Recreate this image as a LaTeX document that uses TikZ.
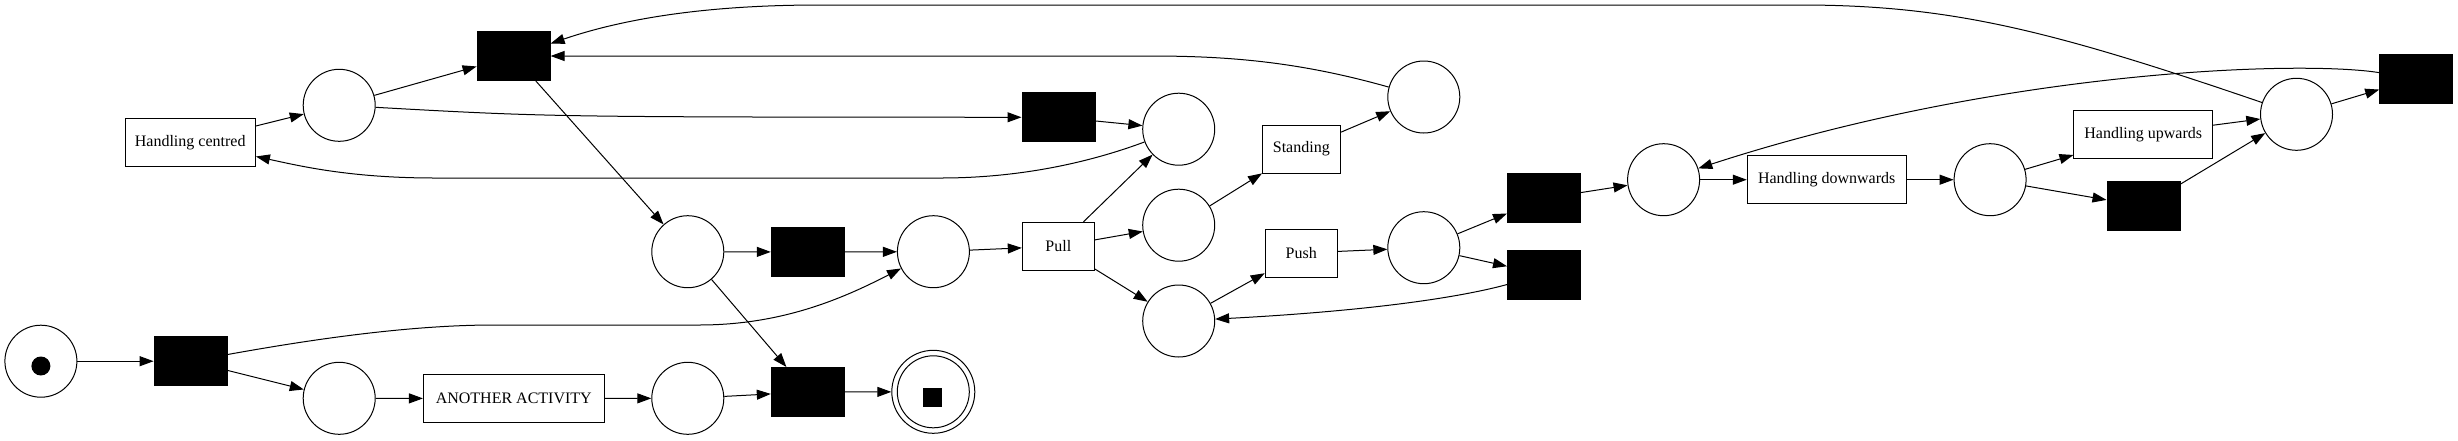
\documentclass[tikz,border=0pt]{standalone}
\usepackage{fontspec}
\setmainfont{Liberation Serif}
\usetikzlibrary{arrows.meta}
\begin{document}
\begin{tikzpicture}[x=1pt,y=-1pt,
  place/.style={draw,circle,line width=1pt,minimum size=72pt,inner sep=0pt},
  silent/.style={draw,fill=black,line width=1pt,minimum width=73pt,minimum height=49pt,inner sep=0pt},
  activity/.style={draw,fill=white,line width=1pt,minimum height=48pt,inner sep=0pt,font=\fontsize{16}{19}\selectfont},
  arc/.style={line width=1pt,-{Triangle[length=14pt,width=10pt]}}]
  \useasboundingbox (0,0) rectangle (2458,440);
  \node[place] (start) at (40.9,361.2) {};
  \node[circle,fill=black,minimum size=19pt,inner sep=0pt] (starttoken) at (40.9,366) {};
  \node[silent] (tA) at (190.6,361.2) {};
  \node[place] (pB) at (339.2,398.3) {};
  \node[activity,minimum width=180.7pt] (another) at (513.8,398.5) {ANOTHER ACTIVITY};
  \node[place] (pC) at (687.8,398.3) {};
  \node[silent] (tEnd) at (807.8,392) {};
  \node[place,minimum size=83pt] (sink) at (933.3,391.8) {};
  \draw[line width=1pt] (sink.center) circle[radius=36pt];
  \node[fill=black,minimum size=19pt,inner sep=0pt] (sinktoken) at (932.9,397.8) {};
  \node[activity,minimum width=130.4pt] (centred) at (190.2,142.3) {Handling centred};
  \node[place] (pD) at (339.2,105.3) {};
  \node[silent] (tTop) at (513.6,56) {};
  \node[place] (pE) at (687.8,251.7) {};
  \node[silent] (tMid) at (807.8,252) {};
  \node[place] (pF) at (933.4,251.7) {};
  \node[activity,minimum width=72pt] (pull) at (1058.3,246.3) {Pull};
  \node[silent] (tUp) at (1058.5,117.3) {};
  \node[place] (pG) at (1178.7,129.2) {};
  \node[place] (pH) at (1178.7,225.2) {};
  \node[place] (pI) at (1178.7,321) {};
  \node[activity,minimum width=77.5pt] (standing) at (1301.3,149) {Standing};
  \node[place] (pJ) at (1423.8,97) {};
  \node[activity,minimum width=72pt] (push) at (1301.2,253) {Push};
  \node[place] (pK) at (1423.8,247.7) {};
  \node[silent] (tK1) at (1544,198.3) {};
  \node[silent] (tK2) at (1544,274.5) {};
  \node[place] (pL) at (1663.6,179.7) {};
  \node[activity,minimum width=158.9pt] (downwards) at (1826.7,179.7) {Handling downwards};
  \node[place] (pM) at (1990.1,179.7) {};
  \node[activity,minimum width=138.5pt] (upwards) at (2143.2,134.3) {Handling upwards};
  \node[silent] (tM) at (2143.5,206.3) {};
  \node[place] (pN) at (2296.5,114.3) {};
  \node[silent] (tN) at (2416.2,78.5) {};
  \draw[arc]
    (start)
    --
    (tA);
  \draw[arc]
    (tA)
    --
    (pB);
  \draw[arc]
    (tA)
    .. controls (330,336) and (420,325) ..
    (494,325)
    --
    (699,325)
    .. controls (780,325) and (840,300) ..
    (pF);
  \draw[arc]
    (pB)
    --
    (another);
  \draw[arc]
    (another)
    --
    (pC);
  \draw[arc]
    (pC)
    --
    (tEnd);
  \draw[arc]
    (tEnd)
    --
    (sink);
  \draw[arc]
    (centred)
    --
    (pD);
  \draw[arc]
    (pD)
    --
    (tTop);
  \draw[arc]
    (pD)
    .. controls (550,117) ..
    (tUp);
  \draw[arc]
    (tUp)
    --
    (pG);
  \draw[arc]
    (pG)
    .. controls (1080,166) and (1010,178) ..
    (941,178)
    --
    (435,178)
    .. controls (350,178) and (300,166) ..
    (centred);
  \draw[arc]
    (tTop)
    --
    (pE);
  \draw[arc]
    (pE)
    --
    (tMid);
  \draw[arc]
    (pE)
    --
    (tEnd);
  \draw[arc]
    (tMid)
    --
    (pF);
  \draw[arc]
    (pF)
    --
    (pull);
  \draw[arc]
    (pull)
    --
    (pG);
  \draw[arc]
    (pull)
    --
    (pH);
  \draw[arc]
    (pull)
    --
    (pI);
  \draw[arc]
    (pH)
    --
    (standing);
  \draw[arc]
    (standing)
    --
    (pJ);
  \draw[arc]
    (pJ)
    .. controls (1300,62) and (1230,56) ..
    (1150,56)
    --
    (tTop);
  \draw[arc]
    (pI)
    --
    (push);
  \draw[arc]
    (push)
    --
    (pK);
  \draw[arc]
    (pK)
    --
    (tK1);
  \draw[arc]
    (pK)
    --
    (tK2);
  \draw[arc]
    (tK2)
    .. controls (1450,300) and (1350,312) ..
    (pI);
  \draw[arc]
    (tK1)
    --
    (pL);
  \draw[arc]
    (pL)
    --
    (downwards);
  \draw[arc]
    (downwards)
    --
    (pM);
  \draw[arc]
    (pM)
    --
    (upwards);
  \draw[arc]
    (pM)
    --
    (tM);
  \draw[arc]
    (upwards)
    --
    (pN);
  \draw[arc]
    (tM)
    --
    (pN);
  \draw[arc]
    (pN)
    --
    (tN);
  \draw[arc]
    (tN)
    .. controls (2300,60) and (2000,70) ..
    (pL);
  \draw[arc]
    (pN)
    .. controls (2050,30) and (1950,5) ..
    (1800,5)
    --
    (820,5)
    .. controls (700,5) and (620,20) ..
    (tTop);
\end{tikzpicture}
\end{document}
